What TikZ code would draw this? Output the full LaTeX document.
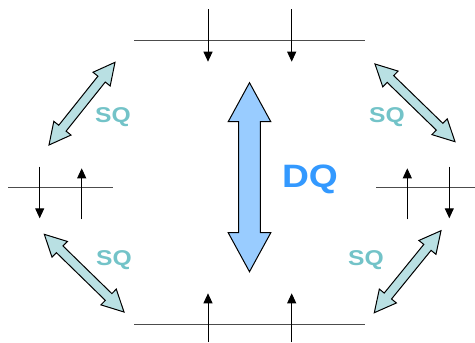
\documentclass[tikz,border=0pt]{standalone}
\usepackage{fontspec}
\usepackage{graphicx}
\setmainfont{Liberation Sans}
\usetikzlibrary{calc,arrows.meta}

\definecolor{dqfill}{RGB}{153,204,255}
\definecolor{dqtext}{RGB}{51,153,255}
\definecolor{sqfill}{RGB}{185,224,227}
\definecolor{sqtext}{RGB}{115,195,200}

% #1 style, #2 and #3 tips, #4 head length, #5 half head, #6 half shaft
\newcommand{\blockarrow}[6]{%
  \draw[#1] (#2)
    -- ($(#2)!#4!(#3)!#5!90:(#3)$) -- ($(#2)!#4!(#3)!#6!90:(#3)$)
    -- ($(#3)!#4!(#2)!#6!-90:(#2)$) -- ($(#3)!#4!(#2)!#5!-90:(#2)$)
    -- (#3)
    -- ($(#3)!#4!(#2)!#5!90:(#2)$) -- ($(#3)!#4!(#2)!#6!90:(#2)$)
    -- ($(#2)!#4!(#3)!#6!-90:(#3)$) -- ($(#2)!#4!(#3)!#5!-90:(#3)$)
    -- cycle;}

\begin{document}
\begin{tikzpicture}[x=1bp, y=-1bp,
  level/.style={line width=1.2bp, draw=black!70},
  spin/.style={line width=1bp, -{Triangle[length=10bp,width=9bp]}},
  dq/.style={draw, line width=1bp, fill=dqfill},
  sq/.style={draw, line width=1bp, fill=sqfill},
  sqlab/.style={font=\bfseries\fontsize{21.5}{22}\selectfont, text=sqtext, inner sep=0pt},
  dqlab/.style={font=\bfseries\fontsize{32.5}{33}\selectfont, text=dqtext, inner sep=0pt}
]
\useasboundingbox (0,0) rectangle (475,342);

% levels
\coordinate (top1) at (134,40.7);  \coordinate (top2) at (365,40.7);
\coordinate (bot1) at (134,324.3); \coordinate (bot2) at (365,324.3);
\coordinate (lft1) at (8,187.7);   \coordinate (lft2) at (113,187.7);
\coordinate (rgt1) at (376,187.7); \coordinate (rgt2) at (475,187.7);
\draw[level] (top1) -- (top2);
\draw[level] (bot1) -- (bot2);
\draw[level] (lft1) -- (lft2);
\draw[level] (rgt1) -- (rgt2);

% spins
\foreach \x [count=\i] in {208,291.7} {
  \coordinate (ta\i) at (\x,9.3);  \coordinate (tb\i) at (\x,61.7);
  \coordinate (ba\i) at (\x,342);  \coordinate (bb\i) at (\x,293.3);
  \draw[spin] (ta\i) -- (tb\i);
  \draw[spin] (ba\i) -- (bb\i);
}
\foreach \x/\ya/\yb [count=\i] in {39.7/166.7/218.3, 81.7/219.3/168.3,
                                   407.3/219.3/168.3, 449.3/166.7/218.3} {
  \coordinate (sa\i) at (\x,\ya); \coordinate (sb\i) at (\x,\yb);
  \draw[spin] (sa\i) -- (sb\i);
}

% double quantum
\coordinate (dq1) at (249.5,82.7); \coordinate (dq2) at (249.5,271.7);
\blockarrow{dq}{dq1}{dq2}{39bp}{21.3bp}{10.8bp}
\node[dqlab] (dq) at (310,179) {\scalebox{1.15}[1]{DQ}};

% single quantum
\coordinate (tl1) at (115,62.3);  \coordinate (tl2) at (49,145);
\coordinate (tr1) at (375,64);    \coordinate (tr2) at (455,141.7);
\coordinate (bl1) at (44.3,234.3);\coordinate (bl2) at (124,312);
\coordinate (br1) at (441,230.7); \coordinate (br2) at (374.3,312.7);
\foreach \a in {tl,tr,bl,br}
  \blockarrow{sq}{\a1}{\a2}{21.5bp}{11bp}{4.7bp};
\node[sqlab] (sqtl) at (113,117) {\scalebox{1.15}[1]{SQ}};
\node[sqlab] (sqtr) at (387,117) {\scalebox{1.15}[1]{SQ}};
\node[sqlab] (sqbl) at (114,260) {\scalebox{1.15}[1]{SQ}};
\node[sqlab] (sqbr) at (366,260) {\scalebox{1.15}[1]{SQ}};
\end{tikzpicture}
\end{document}
